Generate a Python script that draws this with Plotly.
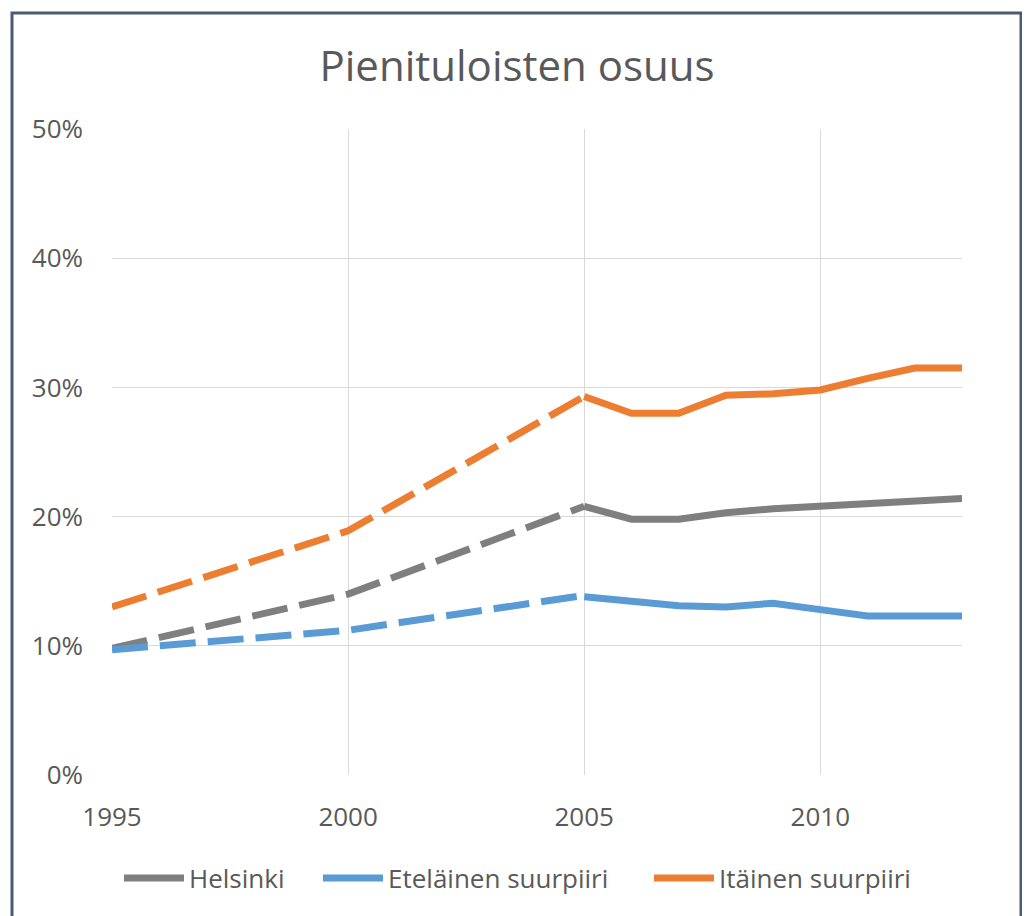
import plotly.graph_objects as go

# ---- data ----
years_est = [1995, 2000, 2005]            # estimated (dashed) period
years_obs = [2005, 2006, 2007, 2008, 2009, 2010, 2011, 2012, 2013]

helsinki_est = [0.098, 0.140, 0.208]
etelainen_est = [0.097, 0.112, 0.139]
itainen_est = [0.130, 0.189, 0.293]

helsinki_obs = [0.208, 0.198, 0.198, 0.203, 0.206, 0.208, 0.211, 0.212, 0.214]
etelainen_obs = [0.138, 0.134, 0.131, 0.130, 0.133, 0.128, 0.123, 0.123, 0.123]
itainen_obs = [0.293, 0.280, 0.280, 0.294, 0.295, 0.298, 0.307, 0.315, 0.315]

series_names = ["Helsinki", "Eteläinen suurpiiri", "Itäinen suurpiiri"]
series_colors = ["#7f7f7f", "#5b9bd5", "#ed7d31"]

y_ticks = [0, 0.1, 0.2, 0.3, 0.4, 0.5]
x_ticks = [1995, 2000, 2005, 2010]

title_text = "Pienituloisten osuus"

FONT = "Open Sans"
TXT = "#595959"
GRID = "#d9d9d9"

# page has an 8px body margin: the figure origin sits at (8, 8) on screen
OFF = 8
W, H = 1030, 916
PL, PR, PT, PB = 112 - OFF, 962 - OFF, 129 - OFF, 775 - OFF   # plot box in figure px
PW, PH = PR - PL, PB - PT


def px_x(x):
    return (x - OFF - PL) / PW


def px_y(y):
    return (PB - (y - OFF)) / PH


fig = go.Figure()

est = [helsinki_est, etelainen_est, itainen_est]
obs = [helsinki_obs, etelainen_obs, itainen_obs]
legend_ids = ["legend", "legend2", "legend3"]
legend_starts = [124, 323, 654]   # screen x where each legend swatch begins

for name, color, e, o, lid in zip(series_names, series_colors, est, obs, legend_ids):
    fig.add_trace(go.Scatter(
        x=years_est, y=e, mode="lines", name=name, legendgroup=name,
        showlegend=False, hoverinfo="skip", legend=lid,
        line=dict(color=color, width=7, dash="36px,12px"),
    ))
    fig.add_trace(go.Scatter(
        x=years_obs, y=o, mode="lines", name=name, legendgroup=name,
        showlegend=True, legend=lid,
        line=dict(color=color, width=7),
    ))

legend_style = dict(orientation="h", yanchor="middle", xanchor="left",
                    itemwidth=60,
                    font=dict(family=FONT, size=26, color=TXT),
                    bgcolor="rgba(0,0,0,0)")
legend_layout = {}
for lid, xs in zip(legend_ids, legend_starts):
    legend_layout[lid] = dict(legend_style, x=px_x(xs - 5), y=px_y(878))

fig.update_layout(
    width=W, height=H,
    margin=dict(l=PL, r=W - PR, t=PT, b=H - PB),
    paper_bgcolor="white", plot_bgcolor="white",
    font=dict(family=FONT, color=TXT),
    title=dict(text=title_text, x=(517 - OFF) / W, xanchor="center",
               y=1 - (66 - OFF) / H, yanchor="middle", yref="container",
               font=dict(family=FONT, size=42, color=TXT)),
    showlegend=True,
    xaxis=dict(range=[1995, 2013], tickvals=x_ticks,
               showgrid=True, gridcolor=GRID, gridwidth=1,
               zeroline=False, showline=False,
               tickfont=dict(family=FONT, size=26, color=TXT),
               ticks="", ticklabelstandoff=24),
    yaxis=dict(range=[0, 0.5], tickvals=y_ticks, tickformat=".0%",
               showgrid=True, gridcolor=GRID, gridwidth=1,
               zeroline=False, showline=False,
               tickfont=dict(family=FONT, size=26, color=TXT),
               ticks="", ticklabelstandoff=28),
    shapes=[dict(type="rect", xref="paper", yref="paper",
                 x0=px_x(12), x1=px_x(1021),
                 y0=-0.3, y1=px_y(13),
                 line=dict(color="#4a5a70", width=3), layer="below")],
    **legend_layout,
)

fig.write_html("out.html")
